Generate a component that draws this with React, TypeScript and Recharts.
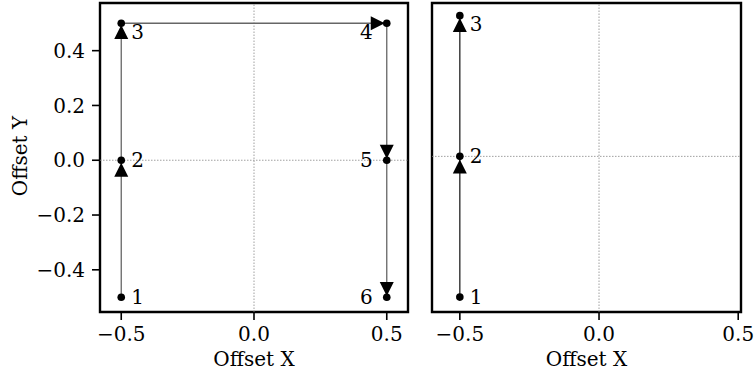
import React from 'react';
import {
  ScatterChart,
  Scatter,
  XAxis,
  YAxis,
  ReferenceLine,
  ReferenceArea,
} from 'recharts';

// path points, left panel
const leftX = [-0.5, -0.5, -0.5, 0.5, 0.5, 0.5];
const leftY = [-0.5, 0, 0.5, 0.5, 0, -0.5];
const leftLabels = ['1', '2', '3', '4', '5', '6'];

// arrowheads along the left path
const leftArrowX = [-0.5, -0.5, 0.466, 0.5, 0.5];
const leftArrowY = [-0.035, 0.468, 0.5, 0.031, -0.47];
const leftArrowDir = ['up', 'up', 'right', 'down', 'down'];

// right panel
const rightX = [-0.5, -0.5, -0.5];
const rightY = [-0.5, 0, 0.5];
const rightLabels = ['1', '2', '3'];
const rightArrowX = [-0.5, -0.5];
const rightArrowY = [-0.036, 0.467];
const rightArrowDir = ['up', 'up'];

const xTicks = [-0.5, 0, 0.5];
const yTicks = [-0.4, -0.2, 0, 0.2, 0.4];

const leftXDomain = [-0.58, 0.58];
const leftYDomain = [-0.554, 0.574];
const rightXDomain = [-0.6, 0.51];
const rightYDomain = [-0.553, 0.545];

const FONT = 'DejaVu Serif';
const FS = 20;

const fmt = (v: number) => (v < 0 ? '\u2212' : '') + Math.abs(v).toFixed(1);

const toPoints = (xs: number[], ys: number[], labels: string[]) =>
  xs.map((x, i) => ({ x, y: ys[i], label: labels[i] }));

const toArrows = (xs: number[], ys: number[], dirs: string[]) =>
  xs.map((x, i) => ({ x, y: ys[i], dir: dirs[i] }));

function PointShape(props: any) {
  const { cx, cy, payload } = props;
  if (cx == null || cy == null) return null;
  const onLeft = payload.x > 0;
  const isTop = payload.y >= 0.5;
  const ty = cy + 7 + (isTop ? 8.5 : 0);
  return (
    <g>
      <circle cx={cx} cy={cy} r={3.8} fill="#000" />
      <text
        x={onLeft ? cx - 14 : cx + 10}
        y={ty}
        textAnchor={onLeft ? 'end' : 'start'}
        fontFamily={FONT}
        fontSize={FS}
        fill="#000"
      >
        {payload.label}
      </text>
    </g>
  );
}

function ArrowShape(props: any) {
  const { cx, cy, payload } = props;
  if (cx == null || cy == null) return null;
  const h = 7;
  let pts = '';
  if (payload.dir === 'up') pts = `${cx},${cy - h} ${cx - h},${cy + h} ${cx + h},${cy + h}`;
  else if (payload.dir === 'down') pts = `${cx},${cy + h} ${cx - h},${cy - h} ${cx + h},${cy - h}`;
  else if (payload.dir === 'right') pts = `${cx + h},${cy} ${cx - h},${cy - h} ${cx - h},${cy + h}`;
  else pts = `${cx - h},${cy} ${cx + h},${cy - h} ${cx + h},${cy + h}`;
  return <polygon points={pts} fill="#000" />;
}

function YLabel() {
  return (
    <text
      x={20}
      y={156}
      transform="rotate(-90 20 156)"
      textAnchor="middle"
      dominantBaseline="central"
      fontFamily={FONT}
      fontSize={FS}
      fill="#000"
    >
      Offset Y
    </text>
  );
}

const tickStyle = { fill: '#000', fontSize: FS, fontFamily: FONT };

export default function App() {
  const leftPts = toPoints(leftX, leftY, leftLabels);
  const leftArrows = toArrows(leftArrowX, leftArrowY, leftArrowDir);
  const rightPts = toPoints(rightX, rightY, rightLabels);
  const rightArrows = toArrows(rightArrowX, rightArrowY, rightArrowDir);

  return (
    <div style={{ position: 'absolute', left: 0, top: 0, width: 755, height: 375, background: '#fff', display: 'flex' }}>
      <ScatterChart width={420} height={375} margin={{ top: 3, right: 12, bottom: 0, left: 0 }}>
        <XAxis
          type="number"
          dataKey="x"
          domain={leftXDomain}
          ticks={xTicks}
          interval={0}
          allowDataOverflow
          tickFormatter={fmt}
          tick={tickStyle}
          axisLine={false}
          tickLine={{ stroke: '#000', strokeWidth: 1.6 }}
          tickSize={8}
          tickMargin={7}
          height={63}
          label={{ value: 'Offset X', position: 'insideBottom', offset: 9, fill: '#000', fontSize: FS, fontFamily: FONT }}
        />
        <YAxis
          type="number"
          dataKey="y"
          domain={leftYDomain}
          ticks={yTicks}
          interval={0}
          allowDataOverflow
          tickFormatter={fmt}
          tick={tickStyle}
          axisLine={false}
          tickLine={{ stroke: '#000', strokeWidth: 1.6 }}
          tickSize={8}
          tickMargin={7}
          width={100}
          label={<YLabel />}
        />
        <ReferenceLine x={0} stroke="#888" strokeWidth={0.8} strokeDasharray="1.5 1.5" />
        <ReferenceLine y={0} stroke="#888" strokeWidth={0.8} strokeDasharray="1.5 1.5" />
        <Scatter
          data={leftPts}
          line={{ stroke: '#666', strokeWidth: 1.3 }}
          shape={PointShape}
          isAnimationActive={false}
        />
        <Scatter data={leftArrows} shape={ArrowShape} isAnimationActive={false} />
        <ReferenceArea
          x1={leftXDomain[0]}
          x2={leftXDomain[1]}
          y1={leftYDomain[0]}
          y2={leftYDomain[1]}
          fill="none"
          fillOpacity={0}
          stroke="#000"
          strokeWidth={2.4}
          ifOverflow="visible"
        />
      </ScatterChart>
      <ScatterChart width={335} height={375} margin={{ top: 3, right: 14, bottom: 0, left: 12 }}>
        <XAxis
          type="number"
          dataKey="x"
          domain={rightXDomain}
          ticks={xTicks}
          interval={0}
          allowDataOverflow
          tickFormatter={fmt}
          tick={tickStyle}
          axisLine={false}
          tickLine={{ stroke: '#000', strokeWidth: 1.6 }}
          tickSize={8}
          tickMargin={7}
          height={63}
          label={{ value: 'Offset X', position: 'insideBottom', offset: 9, fill: '#000', fontSize: FS, fontFamily: FONT }}
        />
        <YAxis type="number" dataKey="y" domain={rightYDomain} allowDataOverflow hide />
        <ReferenceLine x={0} stroke="#888" strokeWidth={0.8} strokeDasharray="1.5 1.5" />
        <ReferenceLine y={0} stroke="#888" strokeWidth={0.8} strokeDasharray="1.5 1.5" />
        <Scatter
          data={rightPts}
          line={{ stroke: '#111', strokeWidth: 1.2 }}
          shape={PointShape}
          isAnimationActive={false}
        />
        <Scatter data={rightArrows} shape={ArrowShape} isAnimationActive={false} />
        <ReferenceArea
          x1={rightXDomain[0]}
          x2={rightXDomain[1]}
          y1={rightYDomain[0]}
          y2={rightYDomain[1]}
          fill="none"
          fillOpacity={0}
          stroke="#000"
          strokeWidth={2.4}
          ifOverflow="visible"
        />
      </ScatterChart>
    </div>
  );
}
